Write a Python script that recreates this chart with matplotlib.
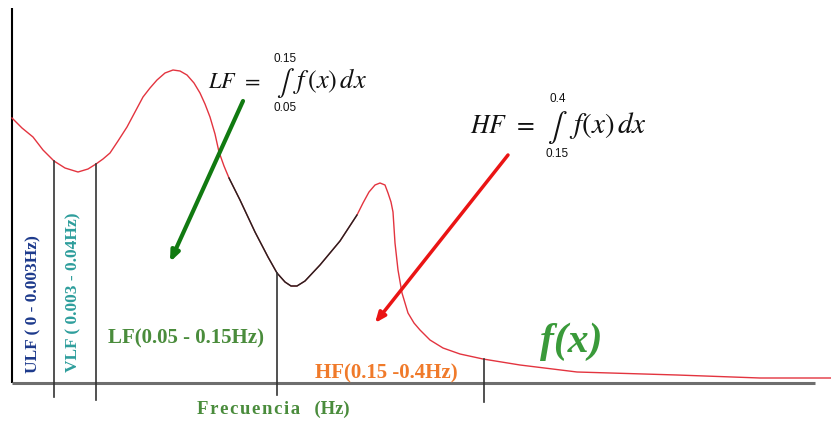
import numpy as np
import matplotlib.pyplot as plt

# spectrum sketch, x in screen units along the axis, y = power above the axis
curve_x = [12, 22, 33, 43, 54, 65, 78, 88, 96, 103, 110, 118, 127, 135, 143,
           150, 157, 165, 173, 180, 187, 194, 200, 205, 210, 215, 219, 224,
           229, 240, 255, 268, 277, 285, 291, 297, 305, 320, 340, 357, 363,
           369, 375, 380, 385, 388, 391, 393, 395, 398, 402, 408, 414, 420,
           430, 443, 460, 483, 520, 577, 677, 760, 831]
curve_y = [265, 255, 246, 233, 222, 215, 211, 214, 219, 224, 230, 242, 256,
           271, 286, 295, 303, 310, 313, 312, 308, 300, 290, 279, 266, 249,
           231, 217, 205, 183, 151, 126, 110, 101, 97, 97, 102, 118, 142, 168,
           180, 191, 198, 200, 198, 190, 181, 171, 140, 113, 90, 70, 60, 53,
           43, 35, 29, 24, 18, 11, 8, 5, 5]

# band limits (x, curve height at that x, lower end below the axis)
band_x = [54, 96, 277, 484]
band_top = [222, 219, 110, 24]
band_bottom = [-14, -17, -12, -19]

# stretch of the curve drawn in black
black_from, black_to = 229, 357

fig = plt.figure(figsize=(8.31, 4.21), dpi=100)
ax = fig.add_axes([0, 0, 1, 1])
ax.set_xlim(0, 831)
ax.set_ylim(-38, 383)
ax.axis("off")
plt.rcParams["mathtext.fontset"] = "stix"

# axes lines
ax.plot([12, 12], [0, 375], color="black", lw=1.5, solid_capstyle="butt")
ax.plot([12, 815], [0, 0], color="#6e6e6e", lw=2.2, solid_capstyle="butt")

cx = np.array(curve_x)
cy = np.array(curve_y)
ax.plot(cx, cy, color="#e3343f", lw=1.0)
seg = (cx >= black_from) & (cx <= black_to)
ax.plot(cx[seg], cy[seg], color="#222222", lw=1.0)

for x, top, bot in zip(band_x, band_top, band_bottom):
    ax.plot([x, x], [bot, top], color="#333333", lw=1.2)

# arrows
ax.annotate("", xy=(170, 121), xytext=(243, 282),
            arrowprops=dict(arrowstyle="-|>,head_length=0.6,head_width=0.25",
                            color="#117a11", lw=3, shrinkA=0, shrinkB=0))
ax.annotate("", xy=(375, 60), xytext=(508, 228),
            arrowprops=dict(arrowstyle="-|>,head_length=0.6,head_width=0.25",
                            color="#ea1414", lw=2.5, shrinkA=0, shrinkB=0))

serif = ["Liberation Serif", "DejaVu Serif"]
sans = "Liberation Sans"
ink = "#111111"

# LF integral
ax.text(208, 383 - 88, "$LF\\;\\,=$", fontsize=16, ha="left", va="baseline", color=ink)
ax.text(285, 383 - 83, "$\\int$", fontsize=19, ha="center", va="center", color=ink)
ax.text(285, 383 - 59, "0.15", fontsize=8.5, family=sans, ha="center", va="center", color=ink)
ax.text(285, 383 - 108, "0.05", fontsize=8.5, family=sans, ha="center", va="center", color=ink)
ax.text(293, 383 - 88, "$f\\,(x)\\,dx$", fontsize=19, ha="left", va="baseline", color=ink)

# HF integral
ax.text(470, 383 - 133, "$HF\\;\\,=$", fontsize=18.5, ha="left", va="baseline", color=ink)
ax.text(557, 383 - 127, "$\\int$", fontsize=21, ha="center", va="center", color=ink)
ax.text(558, 383 - 99, "0.4", fontsize=8.5, family=sans, ha="center", va="center", color=ink)
ax.text(557, 383 - 154, "0.15", fontsize=8.5, family=sans, ha="center", va="center", color=ink)
ax.text(569, 383 - 133, "$f(x)\\,dx$", fontsize=21, ha="left", va="baseline", color=ink)

# band labels
ax.text(33, 383 - 304, "ULF ( 0 - 0.003Hz)", rotation=90, fontsize=12.5, family=serif,
        weight="bold", color="#1d3a8c", ha="center", va="center")
ax.text(73, 383 - 292, "VLF ( 0.003 - 0.04Hz)", rotation=90, fontsize=12.5, family=serif,
        weight="bold", color="#2e9e9c", ha="center", va="center")
ax.text(186, 383 - 338, "LF(0.05 - 0.15Hz)", fontsize=15, family=serif,
        weight="bold", color="#4a8c3c", ha="center", va="center")
ax.text(386, 383 - 373, "HF(0.15 -0.4Hz)", fontsize=15, family=serif,
        weight="bold", color="#f07a2a", ha="center", va="center")
ax.text(273, 383 - 409, "\u200a".join("Frecuencia") + "   (Hz)", fontsize=13.5,
        family=serif, weight="bold", color="#4a8c3c", ha="center", va="center")
ax.text(571, 383 - 342, "f(x)", fontsize=30, family=serif, weight="bold",
        style="italic", color="#3a9a3a", ha="center", va="center")

fig.savefig("out.png", dpi=100)
